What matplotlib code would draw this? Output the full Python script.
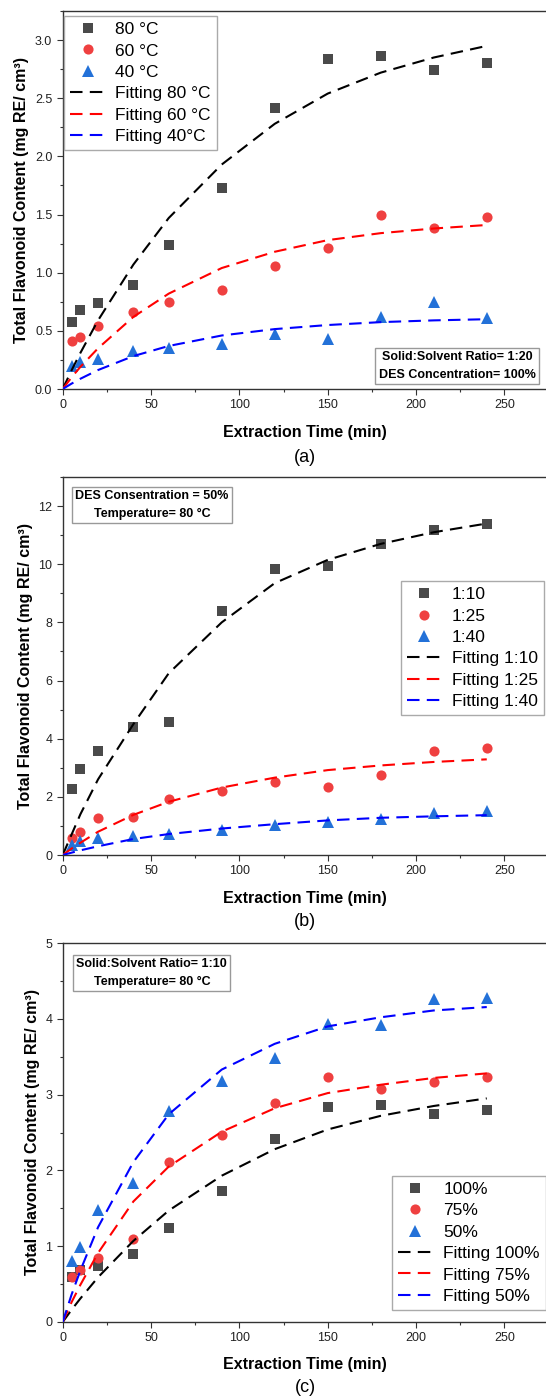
import matplotlib
matplotlib.use('Agg')
import matplotlib.pyplot as plt
from matplotlib.ticker import MultipleLocator, FormatStrFormatter

plt.rcParams['font.family'] = ['Liberation Sans', 'DejaVu Sans']

# sampling times (min)
time = [5, 10, 20, 40, 60, 90, 120, 150, 180, 210, 240]
fit_time = [0, 5, 10, 20, 40, 60, 90, 120, 150, 180, 210, 240]

# (a) temperature effect
a_80 = [0.58, 0.68, 0.74, 0.89, 1.24, 1.73, 2.42, 2.84, 2.86, 2.745, 2.80]
a_60 = [0.41, 0.45, 0.545, 0.66, 0.75, 0.85, 1.06, 1.21, 1.50, 1.38, 1.48]
a_40 = [0.20, 0.23, 0.26, 0.33, 0.355, 0.385, 0.47, 0.43, 0.615, 0.745, 0.61]
a_fit80 = [0, 0.16, 0.31, 0.59, 1.07, 1.47, 1.93, 2.28, 2.54, 2.72, 2.85, 2.95]
a_fit60 = [0, 0.10, 0.19, 0.35, 0.62, 0.82, 1.04, 1.18, 1.28, 1.34, 1.38, 1.41]
a_fit40 = [0, 0.046, 0.088, 0.163, 0.283, 0.37, 0.46, 0.515, 0.55, 0.575, 0.59, 0.60]

# (b) solid:solvent ratio effect
b_10 = [2.26, 2.95, 3.58, 4.40, 4.57, 8.39, 9.83, 9.95, 10.70, 11.18, 11.37]
b_25 = [0.58, 0.79, 1.28, 1.31, 1.93, 2.21, 2.51, 2.35, 2.74, 3.58, 3.69]
b_40 = [0.35, 0.47, 0.57, 0.66, 0.71, 0.87, 1.03, 1.15, 1.25, 1.44, 1.53]
b_fit10 = [0, 0.7, 1.4, 2.6, 4.5, 6.25, 8.0, 9.35, 10.15, 10.7, 11.1, 11.4]
b_fit25 = [0, 0.22, 0.42, 0.8, 1.38, 1.83, 2.32, 2.66, 2.92, 3.08, 3.2, 3.29]
b_fit40 = [0, 0.08, 0.16, 0.3, 0.55, 0.72, 0.91, 1.06, 1.19, 1.28, 1.33, 1.37]

# (c) DES concentration effect
c_100 = [0.59, 0.68, 0.74, 0.90, 1.24, 1.73, 2.42, 2.84, 2.86, 2.745, 2.80]
c_75 = [0.59, 0.68, 0.84, 1.095, 2.11, 2.47, 2.89, 3.23, 3.07, 3.16, 3.23]
c_50 = [0.80, 0.985, 1.48, 1.84, 2.79, 3.175, 3.48, 3.93, 3.92, 4.26, 4.27]
c_fit100 = [0, 0.16, 0.31, 0.59, 1.07, 1.47, 1.93, 2.28, 2.54, 2.72, 2.85, 2.95]
c_fit75 = [0, 0.26, 0.49, 0.91, 1.59, 2.05, 2.51, 2.82, 3.02, 3.13, 3.22, 3.28]
c_fit50 = [0, 0.36, 0.68, 1.25, 2.11, 2.74, 3.33, 3.67, 3.90, 4.02, 4.11, 4.155]

W, H = 546, 1398
fig = plt.figure(figsize=(W / 100, H / 100), dpi=100)

def add_ax(left, top, right, bottom):
    return fig.add_axes([left / W, 1 - bottom / H, (right - left) / W, (bottom - top) / H])

def ftext(x, y, s, **kw):
    fig.text(x / W, 1 - y / H, s, **kw)

marker_style = [('s', '#4a4a4a', 7), ('o', '#ef4040', 7.3), ('^', '#2371d8', 8)]
fit_colors = ['black', '#ff0000', '#0000ff']

def panel(ax, data, fits, labels, fit_labels, ymax, ymaj, fmt):
    for (m, c, ms), y, lab in zip(marker_style, data, labels):
        ax.plot(time, y, ls='none', marker=m, color=c, ms=ms, mew=0, label=lab, zorder=2)
    for c, y, lab in zip(fit_colors, fits, fit_labels):
        ax.plot(fit_time, y, color=c, lw=1.5, dashes=(6, 3.5), label=lab, zorder=3)
    ax.set_xlim(0, 275)
    ax.set_ylim(0, ymax)
    ax.xaxis.set_major_locator(MultipleLocator(50))
    ax.xaxis.set_minor_locator(MultipleLocator(25))
    ax.yaxis.set_major_locator(MultipleLocator(ymaj))
    ax.yaxis.set_minor_locator(MultipleLocator(ymaj / 2))
    ax.yaxis.set_major_formatter(FormatStrFormatter(fmt))
    ax.tick_params(which='both', direction='out', color='#333333', width=0.8,
                   labelsize=9, pad=3, labelcolor='#222222')
    ax.tick_params(which='major', length=4.5)
    ax.tick_params(which='minor', length=2.5)
    for sp in ax.spines.values():
        sp.set_color('#333333')
        sp.set_linewidth(1.0)

def legend(ax, x, y):
    leg = ax.legend(loc='upper left', bbox_to_anchor=(x, y), borderaxespad=0,
                    fontsize=12.5, numpoints=1, fancybox=False, framealpha=1,
                    edgecolor='#aaaaaa', handlelength=2.0, handletextpad=0.6,
                    borderpad=0.35, labelspacing=0.36)
    leg.get_frame().set_linewidth(1.0)

def note(ax, x, y, s):
    ax.text(x, y, s, transform=ax.transAxes, ha='center', va='center',
            fontsize=9, fontweight='bold', linespacing=1.7, multialignment='center',
            bbox=dict(boxstyle='square,pad=0.25', fc='white', ec='#999999', lw=1.0), zorder=5)

ylab = 'Total Flavonoid Content (mg RE/ cm\u00b3)'

# panel (a)
ax1 = add_ax(62.7, 11, 548.6, 389)
panel(ax1, [a_80, a_60, a_40], [a_fit80, a_fit60, a_fit40],
      ['80 °C', '60 °C', '40 °C'], ['Fitting 80 °C', 'Fitting 60 °C', 'Fitting 40°C'],
      3.25, 0.5, '%.1f')
legend(ax1, 0.003, 0.987)
note(ax1, 0.8115, 0.061, 'Solid:Solvent Ratio= 1:20\nDES Concentration= 100%')
ftext(21.5, 200, ylab, rotation=90, ha='center', va='center', fontsize=11.5, fontweight='bold')
ftext(305, 432, 'Extraction Time (min)', ha='center', va='center', fontsize=11.5, fontweight='bold')
ftext(305, 457, '(a)', ha='center', va='center', fontsize=13)

# panel (b)
ax2 = add_ax(62.7, 477, 548.6, 855)
panel(ax2, [b_10, b_25, b_40], [b_fit10, b_fit25, b_fit40],
      ['1:10', '1:25', '1:40'], ['Fitting 1:10', 'Fitting 1:25', 'Fitting 1:40'],
      13, 2, '%d')
legend(ax2, 0.6956, 0.725)
note(ax2, 0.1835, 0.926, 'DES Consentration = 50%\nTemperature= 80 °C')
ftext(26, 666, ylab, rotation=90, ha='center', va='center', fontsize=11.5, fontweight='bold')
ftext(305, 898, 'Extraction Time (min)', ha='center', va='center', fontsize=11.5, fontweight='bold')
ftext(305, 921, '(b)', ha='center', va='center', fontsize=13)

# panel (c)
ax3 = add_ax(62.7, 943, 548.6, 1322)
panel(ax3, [c_100, c_75, c_50], [c_fit100, c_fit75, c_fit50],
      ['100%', '75%', '50%'], ['Fitting 100%', 'Fitting 75%', 'Fitting 50%'],
      5, 1, '%d')
legend(ax3, 0.6777, 0.386)
note(ax3, 0.1835, 0.921, 'Solid:Solvent Ratio= 1:10\nTemperature= 80 °C')
ftext(32.5, 1132, ylab, rotation=90, ha='center', va='center', fontsize=11.5, fontweight='bold')
ftext(305, 1365, 'Extraction Time (min)', ha='center', va='center', fontsize=11.5, fontweight='bold')
ftext(305, 1388, '(c)', ha='center', va='center', fontsize=13)

fig.savefig('out.png', dpi=100)
